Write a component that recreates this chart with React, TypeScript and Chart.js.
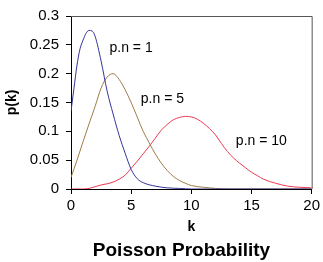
import React, { useEffect, useRef } from "react";
import { Chart, registerables } from "chart.js";

Chart.register(...registerables);

const titleText = "Poisson Probability";
const xTitle = "k";
const yTitle = "p(k)";

const seriesNames = ["p.n = 1", "p.n = 5", "p.n = 10"];
const seriesColors = ["#35359a", "#9e7c48", "#ec3a52"];

const kBlue = [0, 0.25, 0.5, 0.75, 1, 1.25, 1.5, 1.75, 2, 2.5, 3, 3.5, 4, 4.5, 5, 5.5, 6, 7, 8, 9, 10, 12, 15, 20];
const pBlue = [0.135, 0.175, 0.215, 0.243, 0.258, 0.27, 0.275, 0.274, 0.265, 0.222, 0.17, 0.13, 0.093, 0.062, 0.034, 0.018, 0.011, 0.005, 0.002, 0.001, 0, 0, 0, 0];

const kBrown = [0, 0.5, 1, 1.5, 2, 2.5, 3, 3.5, 4, 4.5, 5, 5.5, 6, 6.5, 7, 7.5, 8, 8.5, 9, 9.5, 10, 11, 12, 13, 15, 20];
const pBrown = [0.02, 0.05, 0.082, 0.113, 0.143, 0.175, 0.194, 0.2, 0.19, 0.172, 0.15, 0.125, 0.1, 0.08, 0.061, 0.045, 0.032, 0.022, 0.015, 0.01, 0.006, 0.003, 0.001, 0, 0, 0];

const kRed = [0, 1, 1.5, 2, 2.5, 3, 3.5, 4, 4.5, 5, 5.5, 6, 6.5, 7, 7.5, 8, 8.5, 9, 9.5, 10, 10.5, 11, 11.5, 12, 12.5, 13, 13.5, 14, 14.5, 15, 15.5, 16, 17, 18, 19, 20];
const pRed = [0, 0, 0.001, 0.004, 0.007, 0.009, 0.012, 0.017, 0.024, 0.036, 0.048, 0.061, 0.074, 0.088, 0.102, 0.112, 0.12, 0.124, 0.126, 0.125, 0.121, 0.114, 0.105, 0.094, 0.079, 0.065, 0.054, 0.045, 0.037, 0.029, 0.023, 0.017, 0.01, 0.005, 0.003, 0.002];

// label anchor positions (data units)
const labelK = [3.2, 5.8, 13.7];
const labelP = [0.244, 0.156, 0.083];

const FONT = "'Liberation Sans', Arial, sans-serif";

export default function App() {
  const ref = useRef<HTMLCanvasElement>(null);
  useEffect(() => {
    const ks = [kBlue, kBrown, kRed];
    const ps = [pBlue, pBrown, pRed];
    const labelPlugin = {
      id: "curveLabels",
      afterDatasetsDraw(chart: any) {
        const { ctx, scales } = chart;
        ctx.save();
        ctx.font = `14px ${FONT}`;
        ctx.fillStyle = "#000";
        ctx.textAlign = "left";
        ctx.textBaseline = "middle";
        seriesNames.forEach((n, i) => {
          ctx.fillText(n, scales.x.getPixelForValue(labelK[i]), scales.y.getPixelForValue(labelP[i]));
        });
        const a = chart.chartArea;
        ctx.strokeStyle = "#555";
        ctx.lineWidth = 1;
        ctx.beginPath();
        ctx.moveTo(a.left, a.top + 0.5);
        ctx.lineTo(a.right + 0.5, a.top + 0.5);
        ctx.lineTo(a.right + 0.5, a.bottom);
        ctx.stroke();
        ctx.restore();
      },
      afterDraw(chart: any) {
        const { ctx } = chart;
        ctx.save();
        ctx.font = `bold 19px ${FONT}`;
        ctx.fillStyle = "#000";
        ctx.textAlign = "center";
        ctx.textBaseline = "middle";
        ctx.fillText(titleText, 181.5, chart.height - 11.4);
        ctx.restore();
      },
    };
    const chart = new Chart(ref.current!, {
      type: "line",
      data: {
        datasets: seriesNames.map((n, i) => ({
          label: n,
          data: ks[i].map((k, j) => ({ x: k, y: ps[i][j] })),
          borderColor: seriesColors[i],
          borderWidth: 1,
          pointRadius: 0,
          fill: false,
          tension: 0.4,
          cubicInterpolationMode: "monotone" as const,
        })),
      },
      options: {
        responsive: false,
        animation: false,
        layout: { padding: { left: 0, right: 5, top: 8, bottom: 22.8 } },
        plugins: {
          legend: { display: false },
          tooltip: { enabled: false },
          title: { display: false },
        },
        scales: {
          x: {
            type: "linear",
            min: 0,
            max: 20,
            ticks: { stepSize: 5, color: "#000", font: { family: FONT, size: 15 }, padding: 3, maxRotation: 0 },
            grid: { drawOnChartArea: false, drawTicks: true, tickLength: 5, color: "#000" },
            border: { color: "#000", width: 1 },
            title: { display: true, text: xTitle, color: "#000", font: { family: FONT, size: 14, weight: "bold" }, padding: { top: 0, bottom: 4 } },
            afterFit: (s: any) => { s.height = 50.2; },
          },
          y: {
            min: 0,
            max: 0.3,
            ticks: {
              stepSize: 0.05,
              color: "#000",
              font: { family: FONT, size: 15 },
              padding: 7,
              callback: (v: any) => String(Number(Number(v).toFixed(2))),
            },
            grid: { drawOnChartArea: false, drawTicks: true, tickLength: 5, color: "#000" },
            border: { color: "#000", width: 1 },
            title: { display: true, text: yTitle, color: "#000", font: { family: FONT, size: 14, weight: "bold" }, padding: { top: 3.6, bottom: 0 } },
            afterFit: (s: any) => { s.width = 71; },
          },
        },
      },
      plugins: [labelPlugin],
    });
    return () => chart.destroy();
  }, []);
  return (
    <div style={{ position: "absolute", left: 0, top: 0, width: 323, height: 262, background: "#fff" }}>
      <canvas ref={ref} width={323} height={262} style={{ display: "block" }} />
    </div>
  );
}
